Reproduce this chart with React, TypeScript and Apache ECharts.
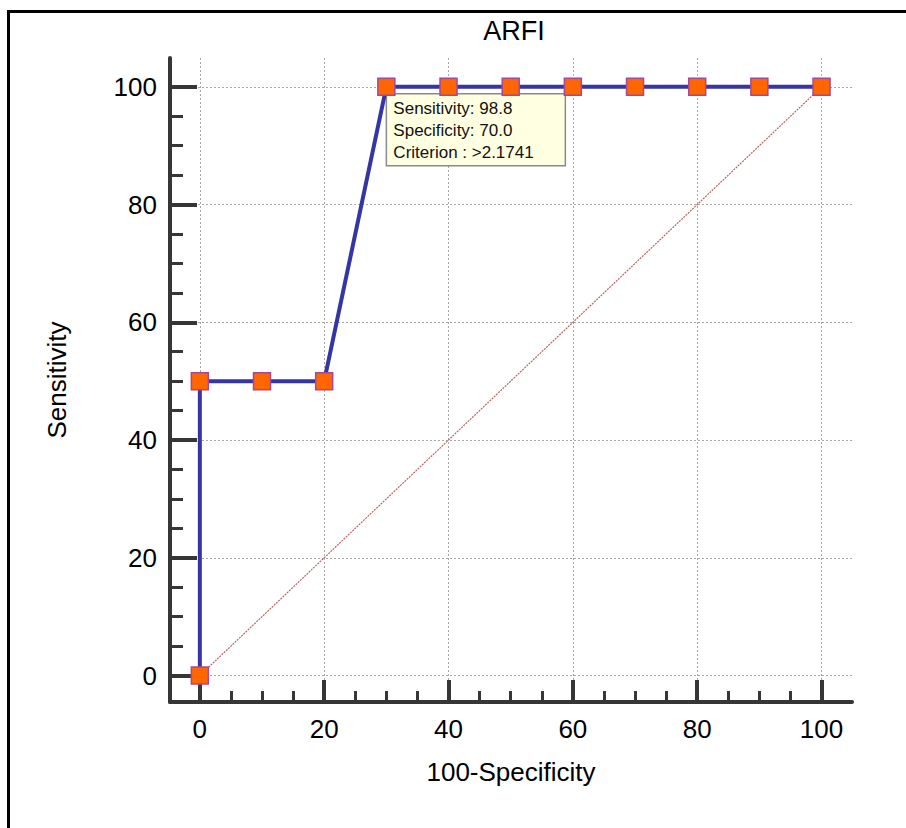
import React, { useEffect, useRef } from "react";
import * as echarts from "echarts";

// ROC curve points (100-Specificity, Sensitivity)
const rocX = [0, 0, 10, 20, 30, 40, 50, 60, 70, 80, 90, 100];
const rocY = [0, 50, 50, 50, 100, 100, 100, 100, 100, 100, 100, 100];
// chance diagonal
const chanceX = [0, 100];
const chanceY = [0, 100];
// tick labels
const xTicks = [0, 20, 40, 60, 80, 100];
const yTicks = [0, 20, 40, 60, 80, 100];
// annotation at the chosen criterion
const criterionPoint = [30, 100];
const criterionLines = ["Sensitivity: 98.8", "Specificity: 70.0", "Criterion : >2.1741"];

const FONT = "Arial, 'Liberation Sans', Helvetica, sans-serif";
const AXIS_COLOR = "#363636";

export default function App() {
  const ref = useRef<HTMLDivElement>(null);

  useEffect(() => {
    if (!ref.current) return;
    const chart = echarts.init(ref.current, undefined, { renderer: "svg" });
    const axisCommon = {
      type: "value" as const,
      minInterval: 20,
      maxInterval: 20,
      axisLine: { show: true, onZero: false, lineStyle: { color: AXIS_COLOR, width: 4 } },
      splitLine: {
        show: true,
        lineStyle: { color: "#a8a8a8", width: 1, type: [2, 2] },
      },
      nameLocation: "middle" as const,
      nameTextStyle: { fontFamily: FONT, fontSize: 26, color: "#000" },
    };
    chart.setOption({
      animation: false,
      backgroundColor: "transparent",
      title: {
        text: "ARFI",
        left: 509,
        top: 12,
        textAlign: "center",
        textStyle: { fontFamily: FONT, fontSize: 27, fontWeight: "normal", color: "#000" },
      },
      grid: { left: 170, right: 54, top: 58, bottom: 126, containLabel: false },
      xAxis: {
        ...axisCommon,
        min: -4.8,
        max: 104.9,
        name: "100-Specificity",
        nameGap: 57,
        axisTick: {
          show: true,
          inside: true,
          length: 22,
          customValues: xTicks,
          lineStyle: { color: AXIS_COLOR, width: 4 },
        },
        minorTick: { show: true, splitNumber: 4, length: 11, lineStyle: { color: AXIS_COLOR, width: 3 } },
        axisLabel: {
          customValues: xTicks,
          margin: 14,
          fontFamily: FONT,
          fontSize: 26,
          color: "#000",
          showMinLabel: true,
          showMaxLabel: true,
        },
      },
      yAxis: {
        ...axisCommon,
        min: -4.5,
        max: 104.9,
        name: "Sensitivity",
        nameGap: 100,
        axisTick: {
          show: true,
          inside: true,
          length: 27,
          customValues: yTicks,
          lineStyle: { color: AXIS_COLOR, width: 4 },
        },
        minorTick: { show: true, splitNumber: 4, length: 13, lineStyle: { color: AXIS_COLOR, width: 3 } },
        axisLabel: {
          customValues: yTicks,
          margin: 13,
          fontFamily: FONT,
          fontSize: 26,
          color: "#000",
        },
      },
      series: [
        {
          name: "Chance",
          type: "line",
          data: chanceX.map((x, i) => [x, chanceY[i]]),
          symbol: "none",
          lineStyle: { color: "#b86565", width: 1.2, type: [2, 1] },
          z: 2,
          silent: true,
        },
        {
          name: "ARFI",
          type: "line",
          data: rocX.map((x, i) => [x, rocY[i]]),
          symbol: "rect",
          symbolSize: 17,
          lineStyle: { color: "#3535a3", width: 4 },
          itemStyle: { color: "#ff6600", borderColor: "#a8479a", borderWidth: 1.5 },
          z: 3,
        },
      ],
    });

    const [px, py] = chart.convertToPixel({ gridIndex: 0 }, criterionPoint) as number[];
    chart.setOption({
      graphic: [
        {
          type: "group",
          x: px,
          y: py + 7,
          z: 100,
          children: [
            {
              type: "rect",
              shape: { x: 0, y: 0, width: 179, height: 72 },
              style: { fill: "#ffffe1", stroke: "#8a8a8a", lineWidth: 1.5 },
            },
            {
              type: "text",
              x: 7,
              y: 4,
              style: {
                text: criterionLines.join("\n"),
                font: `17px ${FONT}`,
                fill: "#111",
                lineHeight: 22,
              },
            },
          ],
        },
      ],
    });

    return () => chart.dispose();
  }, []);

  return (
    <div
      style={{
        position: "fixed",
        left: 0,
        top: 0,
        width: 906,
        height: 828,
        background: "#fff",
        overflow: "hidden",
      }}
    >
      <div
        style={{
          position: "absolute",
          left: 7,
          top: 10,
          width: 1200,
          height: 1200,
          borderTop: "3px solid #000",
          borderLeft: "3px solid #000",
        }}
      />
      <div ref={ref} style={{ position: "absolute", left: 0, top: 0, width: 906, height: 828 }} />
    </div>
  );
}
